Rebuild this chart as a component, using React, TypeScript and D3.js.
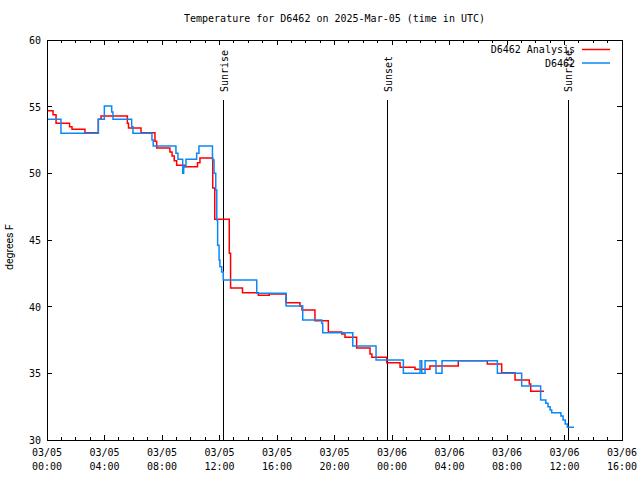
import React from 'react';
import * as d3 from 'd3';

const W = 640;
const H = 480;
const PL = 47, PR = 622, PT = 40, PB = 440;

const titleText = 'Temperature for D6462 on 2025-Mar-05 (time in UTC)';
const yLabelText = 'degrees F';

const xTickHours = [0, 4, 8, 12, 16, 20, 24, 28, 32, 36, 40];
const xTickDates = ['03/05', '03/05', '03/05', '03/05', '03/05', '03/05', '03/06', '03/06', '03/06', '03/06', '03/06'];
const xTickTimes = ['00:00', '04:00', '08:00', '12:00', '16:00', '20:00', '00:00', '04:00', '08:00', '12:00', '16:00'];
const yTicks = [30, 35, 40, 45, 50, 55, 60];

const sunLabels = ['Sunrise', 'Sunset', 'Sunrise'];
const sunHours = [12.31, 23.72, 36.26];

const seriesNames = ['D6462 Analysis', 'D6462'];
const seriesColors = ['#ff0000', '#0a88f5'];

// hours since 03/05 00:00 UTC
const analysisHours = [0, 0.42, 0.63, 1.57, 1.74, 2.64, 3.57, 3.76, 5.59, 5.67, 6.54, 7.51, 7.63, 8.55, 8.7, 8.85, 9.02, 9.6, 10.47, 10.64, 11.53, 11.67, 12.68, 12.77, 13.6, 14.7, 15.46, 16.63, 17.6, 17.74, 18.64, 19.57, 20.5, 20.73, 21.54, 22.47, 22.6, 23.63, 24.56, 25.6, 26.64, 28.61, 30.63, 31.63, 32.56, 33.55, 33.65, 34.57];
const analysisTemps = [54.7, 54.4, 53.75, 53.5, 53.3, 53.05, 54.05, 54.3, 53.75, 53.4, 53.05, 52.4, 51.9, 51.6, 51.3, 50.95, 50.6, 50.5, 50.8, 51.15, 48.9, 46.55, 44.0, 41.4, 41.05, 40.85, 40.95, 40.3, 40.05, 39.75, 38.95, 38.1, 37.95, 37.7, 36.9, 36.45, 36.2, 35.8, 35.45, 35.3, 35.55, 35.95, 35.7, 35.05, 34.5, 34.2, 33.65, 33.65];

const obsHours = [0, 0.97, 3.57, 3.99, 4.5, 4.59, 5.89, 5.98, 7.3, 7.39, 8.97, 9.11, 9.44, 9.51, 9.67, 10.41, 10.57, 11.51, 11.62, 11.74, 11.81, 11.87, 11.97, 12.03, 12.15, 12.26, 14.59, 16.63, 17.79, 19.11, 19.18, 21.27, 22.89, 24.79, 25.95, 26.07, 26.3, 27.06, 27.48, 31.33, 33.02, 34.34, 34.7, 34.85, 35.0, 35.11, 35.75, 35.9, 36.05, 36.2, 36.66];
const obsTemps = [54.05, 53.0, 54.05, 55.05, 54.6, 54.05, 53.5, 53.0, 52.5, 52.05, 51.5, 51.05, 50.0, 50.5, 51.05, 51.5, 52.05, 51.0, 50.0, 48.75, 46.5, 44.6, 43.5, 43.0, 42.6, 42.0, 41.0, 40.05, 39.0, 38.75, 38.05, 37.05, 36.0, 35.0, 35.95, 35.0, 35.95, 35.0, 35.95, 35.0, 34.05, 33.0, 32.75, 32.5, 32.25, 32.05, 31.8, 31.5, 31.2, 30.95, 30.95];

const FONT = '"DejaVu Sans Mono", monospace';

export default function App() {
  const x = d3.scaleLinear().domain([0, 40]).range([PL, PR]);
  const y = d3.scaleLinear().domain([30, 60]).range([PB, PT]);
  const line = d3
    .line<[number, number]>()
    .x((d) => x(d[0]))
    .y((d) => y(d[1]))
    .curve(d3.curveStepAfter);

  const analysis: [number, number][] = analysisHours.map((h, i) => [h, analysisTemps[i]]);
  const obs: [number, number][] = obsHours.map((h, i) => [h, obsTemps[i]]);
  const minorHours = d3.range(0, 41, 1);

  return (
    <svg
      width={W}
      height={H}
      style={{ position: 'absolute', left: 0, top: 0, background: '#fff' }}
      fontFamily={FONT}
      fontSize={10}
    >
      <rect x={0} y={0} width={W} height={H} fill="#fff" />
      <text x={(PL + PR) / 2} y={22} textAnchor="middle">{titleText}</text>
      <text transform={`translate(13,247) rotate(-90)`} textAnchor="middle" fontFamily="Roboto, sans-serif" fontSize={10.5}>
        {yLabelText}
      </text>

      {/* ticks */}
      <g stroke="#000" strokeWidth={1} shapeRendering="crispEdges">
        {minorHours.map((h) => {
          const major = h % 4 === 0;
          const len = major ? 5 : 3;
          return (
            <g key={'xt' + h}>
              <line x1={x(h)} x2={x(h)} y1={PB} y2={PB - len} />
              <line x1={x(h)} x2={x(h)} y1={PT} y2={PT + len} />
            </g>
          );
        })}
        {yTicks.map((v) => (
          <g key={'yt' + v}>
            <line x1={PL} x2={PL + 5} y1={y(v)} y2={y(v)} />
            <line x1={PR} x2={PR - 5} y1={y(v)} y2={y(v)} />
          </g>
        ))}
      </g>

      {yTicks.map((v) => (
        <text key={'yl' + v} x={41} y={y(v) + 4} textAnchor="end">{v}</text>
      ))}
      {xTickHours.map((h, i) => (
        <g key={'xl' + h}>
          <text x={x(h)} y={456} textAnchor="middle">{xTickDates[i]}</text>
          <text x={x(h)} y={470} textAnchor="middle">{xTickTimes[i]}</text>
        </g>
      ))}

      {/* sun events */}
      {sunHours.map((h, i) => (
        <g key={'sun' + i}>
          <line x1={x(h)} x2={x(h)} y1={100} y2={PB} stroke="#000" strokeWidth={1} shapeRendering="crispEdges" />
          <text transform={`translate(${x(h) + 4},92) rotate(-90)`} textAnchor="start">{sunLabels[i]}</text>
        </g>
      ))}

      {/* data */}
      <path d={line(analysis) || ''} fill="none" stroke={seriesColors[0]} strokeWidth={1.5} />
      <path d={line(obs) || ''} fill="none" stroke={seriesColors[1]} strokeWidth={1.5} />

      {/* legend */}
      {seriesNames.map((n, i) => (
        <g key={'lg' + i}>
          <text x={575} y={53 + i * 13.5} textAnchor="end">{n}</text>
          <line x1={582} x2={610} y1={49.5 + i * 13.5} y2={49.5 + i * 13.5} stroke={seriesColors[i]} strokeWidth={1.5} />
        </g>
      ))}

      {/* border */}
      <rect x={PL} y={PT} width={PR - PL} height={PB - PT} fill="none" stroke="#000" strokeWidth={1} shapeRendering="crispEdges" />
    </svg>
  );
}
